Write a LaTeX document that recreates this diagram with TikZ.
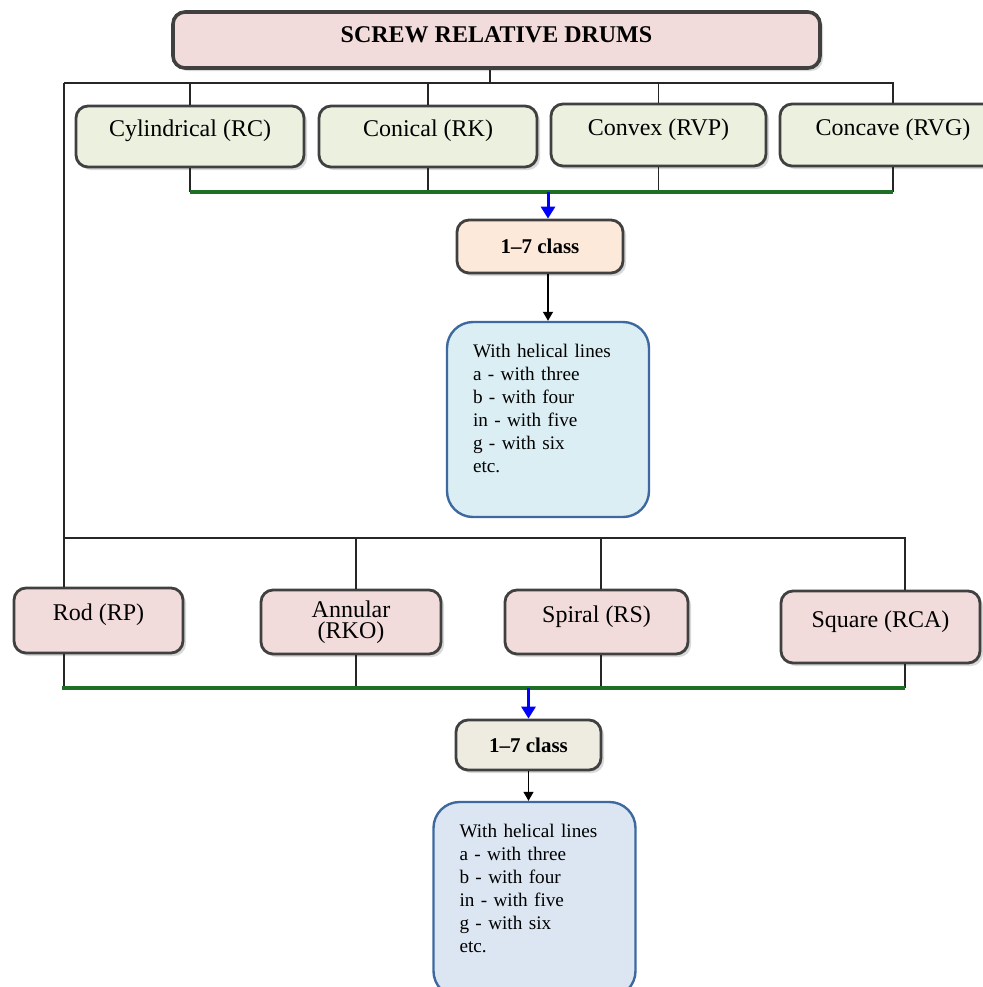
\documentclass[tikz,border=0pt]{standalone}
\usepackage{fontspec}
\setmainfont{Liberation Serif}
\usetikzlibrary{shadows,arrows.meta}

\definecolor{pinkfill}{RGB}{242,220,219}
\definecolor{greenfill}{RGB}{235,241,222}
\definecolor{peachfill}{RGB}{253,233,217}
\definecolor{beigefill}{RGB}{238,236,225}
\definecolor{infofillA}{RGB}{218,238,243}
\definecolor{infofillB}{RGB}{220,230,242}
\definecolor{boxline}{RGB}{64,64,64}
\definecolor{infoline}{RGB}{61,105,160}
\definecolor{busgreen}{RGB}{30,110,35}

\tikzset{
box/.style={
  rectangle,
  rounded corners=6pt,
  draw=boxline,
  line width=1.4pt,
  text centered,
  inner sep=0pt,
  drop shadow={shadow xshift=1.5pt, shadow yshift=-1.5pt, opacity=0.3},
},
kind/.style={box, font=\fontsize{12}{10.5}\selectfont, text height=8pt, text depth=8pt},
kindtwo/.style={box, font=\fontsize{12}{10.5}\selectfont, align=center},
classbox/.style={box, font=\fontsize{10.5}{12}\selectfont\bfseries},
infobox/.style={
  rectangle,
  rounded corners=13pt,
  draw=infoline,
  line width=1.2pt,
  inner xsep=13pt,
  text width=75pt,
  align=left,
  font=\fontsize{9.6}{11.5}\selectfont,
  minimum width=101pt,
  minimum height=97.5pt,
},
bus/.style={draw=black!85, line width=0.75pt},
greenbus/.style={draw=busgreen, line width=2pt},
bluearrow/.style={draw=blue, line width=1.5pt, -{Triangle[width=7pt,length=6pt]}},
blackarrow/.style={draw=black, line width=0.6pt, -{Triangle[width=5pt,length=4.5pt]}},
}

\begin{document}
\begin{tikzpicture}[x=0.5pt, y=-0.5pt]
\clip (0,0) rectangle (983,987);

%title
\node[box, line width=1.8pt, fill=pinkfill, font=\fontsize{12}{14}\selectfont\bfseries, text depth=5pt, minimum width=323.5pt, minimum height=28pt](title) at (496.5,40) {SCREW RELATIVE DRUMS};

%upper row
\node[kind, fill=greenfill, minimum width=114pt, minimum height=30.5pt](cyl) at (190,136.5) {Cylindrical (RC)};
\node[kind, fill=greenfill, minimum width=109pt, minimum height=30.5pt](con) at (428,136.5) {Conical (RK)};
\node[kind, fill=greenfill, minimum width=107.5pt, minimum height=31pt](cvx) at (658.5,135) {Convex (RVP)};
\node[kind, fill=greenfill, minimum width=113pt, minimum height=31pt](ccv) at (893,135) {Concave (RVG)};

\node[classbox, fill=peachfill, minimum width=83pt, minimum height=26.5pt](clsA) at (540,246.5) {1--7 class};
\node[infobox, fill=infofillA](infoA) at (548,419.5) {With helical lines\\a - with three\\b - with four\\in - with five\\g - with six\\etc.\\ \mbox{}};

%lower row
\node[kind, fill=pinkfill, minimum width=84.5pt, minimum height=32.5pt](rod) at (98.5,620.5) {Rod (RP)};
\node[kindtwo, fill=pinkfill, minimum width=90pt, minimum height=32pt](ann) at (351,622) {Annular\\(RKO)};
\node[kind, fill=pinkfill, minimum width=91.5pt, minimum height=32pt](spi) at (596.5,622) {Spiral (RS)};
\node[kind, fill=pinkfill, minimum width=99.5pt, minimum height=36pt](squ) at (880.5,627) {Square (RCA)};

\node[classbox, fill=beigefill, minimum width=72.5pt, minimum height=25pt](clsB) at (528.5,745) {1--7 class};
\node[infobox, fill=infofillB](infoB) at (534.5,899.5) {With helical lines\\a - with three\\b - with four\\in - with five\\g - with six\\etc.\\ \mbox{}};

%bus lines
\coordinate (busT) at (64,83);
\coordinate (busB) at (64,538);
\coordinate (grnT) at (190,192);
\coordinate (grnB) at (62,688);
\coordinate (dropA) at (356,538);
\coordinate (dropB) at (601,538);
\coordinate (dropC) at (905,538);
\coordinate (dropT) at (490,83);

\draw[bus](dropT |- title.south) -- (dropT);
\draw[bus](busT) -- (ccv.north |- busT) -- (ccv.north);
\draw[bus](cyl.north |- busT) -- (cyl.north);
\draw[bus](con.north |- busT) -- (con.north);
\draw[bus](cvx.north |- busT) -- (cvx.north);
\draw[bus](busT) -- (busT |- rod.north);

\draw[bus](cyl.south) -- (cyl.south |- grnT);
\draw[bus](con.south) -- (con.south |- grnT);
\draw[bus](cvx.south) -- (cvx.south |- grnT);
\draw[bus](ccv.south) -- (ccv.south |- grnT);
\draw[greenbus](grnT) -- (ccv.south |- grnT);

\draw[bluearrow](infoA.north |- grnT) -- (infoA.north |- clsA.north);
\draw[blackarrow](infoA.north |- clsA.south) -- (infoA.north);

\draw[bus](busB) -- (dropC) -- (dropC |- squ.north);
\draw[bus](dropA) -- (dropA |- ann.north);
\draw[bus](dropB) -- (dropB |- spi.north);

\draw[bus](busB |- rod.south) -- (busB |- grnB);
\draw[bus](dropA |- ann.south) -- (dropA |- grnB);
\draw[bus](dropB |- spi.south) -- (dropB |- grnB);
\draw[bus](dropC |- squ.south) -- (dropC |- grnB);
\draw[greenbus](grnB) -- (dropC |- grnB);

\draw[bluearrow](clsB.north |- grnB) -- (clsB.north);
\draw[blackarrow](clsB.south) -- (clsB.south |- infoB.north);

\end{tikzpicture}
\end{document}
